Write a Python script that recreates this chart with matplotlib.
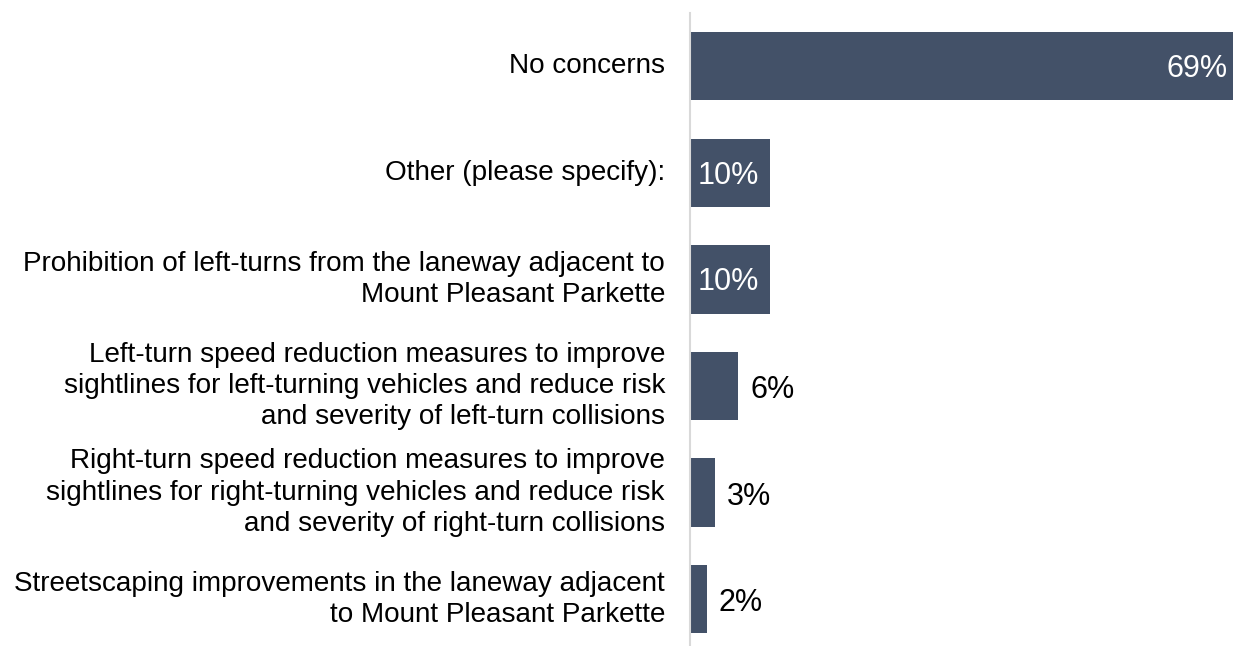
import matplotlib.pyplot as plt

plt.rcParams['font.family'] = ['Liberation Sans', 'DejaVu Sans']

categories = [
    "No concerns",
    "Other (please specify):",
    "Prohibition of left-turns from the laneway adjacent to\nMount Pleasant Parkette",
    "Left-turn speed reduction measures to improve\nsightlines for left-turning vehicles and reduce risk\nand severity of left-turn collisions",
    "Right-turn speed reduction measures to improve\nsightlines for right-turning vehicles and reduce risk\nand severity of right-turn collisions",
    "Streetscaping improvements in the laneway adjacent\nto Mount Pleasant Parkette",
]
values = [69, 10, 10, 6, 3, 2]

bar_color = '#435168'

fig = plt.figure(figsize=(12.33, 6.46), dpi=100)
ax = fig.add_axes([690/1233, 1 - 645/646, 1 - 690/1233, (645 - 13)/646])

y = list(range(len(values)))
ax.barh(y, values, height=0.64, color=bar_color, left=0.15)
ax.set_xlim(0, 69.15)
ax.set_ylim(5.43, -0.5)

for spine in ['top', 'right', 'bottom']:
    ax.spines[spine].set_visible(False)
ax.spines['left'].set_color('#d9d9d9')
ax.spines['left'].set_linewidth(1.5)
ax.set_xticks([])
ax.set_yticks([])

for i, (cat, v) in enumerate(zip(categories, values)):
    ax.annotate(cat, xy=(0, i), xytext=(-25, 0), textcoords='offset pixels',
                ha='right', va='center', fontsize=20.1, linespacing=1.26)
    # big bar: label inside at the end; mid bars: inside at the start; small: outside
    if v >= 50:
        ax.annotate(f"{v}%", xy=(v + 0.15, i), xytext=(-5, -3), textcoords='offset pixels',
                    ha='right', va='center', fontsize=22, color='white')
    elif v >= 8:
        ax.annotate(f"{v}%", xy=(0.15, i), xytext=(6, -3), textcoords='offset pixels',
                    ha='left', va='center', fontsize=22, color='white')
    else:
        ax.annotate(f"{v}%", xy=(v + 0.15, i), xytext=(12, -4), textcoords='offset pixels',
                    ha='left', va='center', fontsize=22, color='black')

fig.savefig('out.png', dpi=100)
